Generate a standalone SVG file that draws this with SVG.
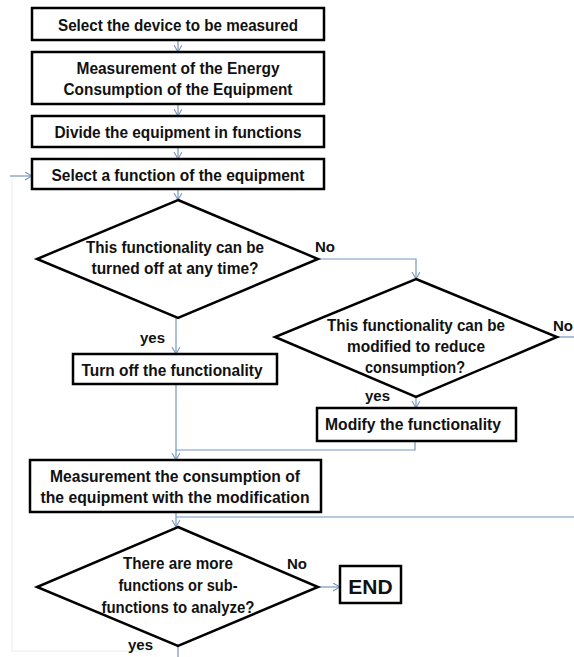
<svg xmlns="http://www.w3.org/2000/svg" width="574" height="657" viewBox="0 0 574 657">
  <style>
    .box { fill: #ffffff; stroke: #000000; stroke-width: 2.5; }
    .t { font-family: "Liberation Sans", Arial, sans-serif; font-weight: bold; font-size: 16px; fill: #111111; text-anchor: middle; dominant-baseline: central; }
    .lbl { font-family: "Liberation Sans", Arial, sans-serif; font-weight: bold; font-size: 15px; fill: #111111; dominant-baseline: central; }
    .c { fill: none; stroke: #7497bf; stroke-width: 1.2; }
    .faint { fill: none; stroke: #eef3f9; stroke-width: 1.5; }
  </style>
  <defs>
    <marker id="arr" markerUnits="userSpaceOnUse" markerWidth="8" markerHeight="10" refX="7" refY="4" orient="auto">
      <path d="M0,0 L7,4 L0,8" fill="none" stroke="#7497bf" stroke-width="1.1"/>
    </marker>
  </defs>
  <rect width="574" height="657" fill="#ffffff"/>

  <g id="connectors">
    <path class="faint" d="M12,177 V651 H150"/>
    <path class="c" d="M10,176 H32" marker-end="url(#arr)"/>
    <path class="c" d="M178,40 V52" marker-end="url(#arr)"/>
    <path class="c" d="M178,104 V116" marker-end="url(#arr)"/>
    <path class="c" d="M178,147 V159" marker-end="url(#arr)"/>
    <path class="c" d="M178,189 V200" marker-end="url(#arr)"/>
    <path class="c" d="M318,259 H416 V279" marker-end="url(#arr)"/>
    <path class="c" d="M176,318 V354" marker-end="url(#arr)"/>
    <path class="c" d="M416,397 V408" marker-end="url(#arr)"/>
    <path class="c" d="M557,337 H574"/>
    <path class="c" d="M176,384 V460" marker-end="url(#arr)"/>
    <path class="c" d="M415,441 V450 H176"/>
    <path class="c" d="M176,512 V527" marker-end="url(#arr)"/>
    <path class="c" d="M574,517 H176"/>
    <path class="c" d="M318,587 H340" marker-end="url(#arr)"/>
    <path class="c" d="M178,646 V657"/>
  </g>

  <g id="n1">
    <rect class="box" x="32" y="8" width="292" height="32"/>
    <text class="t" x="178" y="25" textLength="240" lengthAdjust="spacingAndGlyphs">Select the device to be measured</text>
  </g>
  <g id="n2">
    <rect class="box" x="32" y="52" width="292" height="52"/>
    <text class="t" x="178" y="68" textLength="203" lengthAdjust="spacingAndGlyphs">Measurement of the Energy</text>
    <text class="t" x="178" y="89" textLength="229" lengthAdjust="spacingAndGlyphs">Consumption of the Equipment</text>
  </g>
  <g id="n3">
    <rect class="box" x="32" y="116" width="292" height="31"/>
    <text class="t" x="178" y="132" textLength="247" lengthAdjust="spacingAndGlyphs">Divide the equipment in functions</text>
  </g>
  <g id="n4">
    <rect class="box" x="32" y="159" width="292" height="30"/>
    <text class="t" x="178" y="175" textLength="253" lengthAdjust="spacingAndGlyphs">Select a function of the equipment</text>
  </g>
  <g id="d1">
    <polygon class="box" points="178,200 318,259 178,318 37,259"/>
    <text class="t" x="175" y="247" textLength="178" lengthAdjust="spacingAndGlyphs">This functionality can be</text>
    <text class="t" x="175" y="268" textLength="167" lengthAdjust="spacingAndGlyphs">turned off at any time?</text>
    <text class="lbl" x="315" y="246">No</text>
    <text class="lbl" x="140" y="337">yes</text>
  </g>
  <g id="n5">
    <rect class="box" x="73" y="354" width="204" height="30"/>
    <text class="t" x="172" y="370" textLength="181" lengthAdjust="spacingAndGlyphs">Turn off the functionality</text>
  </g>
  <g id="d2">
    <polygon class="box" points="416,279 557,337 416,397 275,337"/>
    <text class="t" x="416" y="325" textLength="178" lengthAdjust="spacingAndGlyphs">This functionality can be</text>
    <text class="t" x="416" y="346" textLength="138" lengthAdjust="spacingAndGlyphs">modified to reduce</text>
    <text class="t" x="415" y="367" textLength="100" lengthAdjust="spacingAndGlyphs">consumption?</text>
    <text class="lbl" x="553" y="325">No</text>
    <text class="lbl" x="365" y="395">yes</text>
  </g>
  <g id="n6">
    <rect class="box" x="317" y="408" width="199" height="33"/>
    <text class="t" x="413" y="424" textLength="176" lengthAdjust="spacingAndGlyphs">Modify the functionality</text>
  </g>
  <g id="n7">
    <rect class="box" x="30" y="460" width="291" height="52"/>
    <text class="t" x="175" y="476" textLength="250" lengthAdjust="spacingAndGlyphs">Measurement the consumption of</text>
    <text class="t" x="175" y="497" textLength="269" lengthAdjust="spacingAndGlyphs">the equipment with the modification</text>
  </g>
  <g id="d3">
    <polygon class="box" points="178,527 318,587 178,646 37,587"/>
    <text class="t" x="178" y="563" textLength="110" lengthAdjust="spacingAndGlyphs">There are more</text>
    <text class="t" x="178" y="585" textLength="119" lengthAdjust="spacingAndGlyphs">functions or sub-</text>
    <text class="t" x="178" y="607" textLength="153" lengthAdjust="spacingAndGlyphs">functions to analyze?</text>
    <text class="lbl" x="287" y="563">No</text>
    <text class="lbl" x="128" y="644">yes</text>
  </g>
  <g id="end">
    <rect class="box" x="340" y="566" width="61" height="37"/>
    <text class="t" x="370.5" y="586" style="font-size:21px">END</text>
  </g>
</svg>
